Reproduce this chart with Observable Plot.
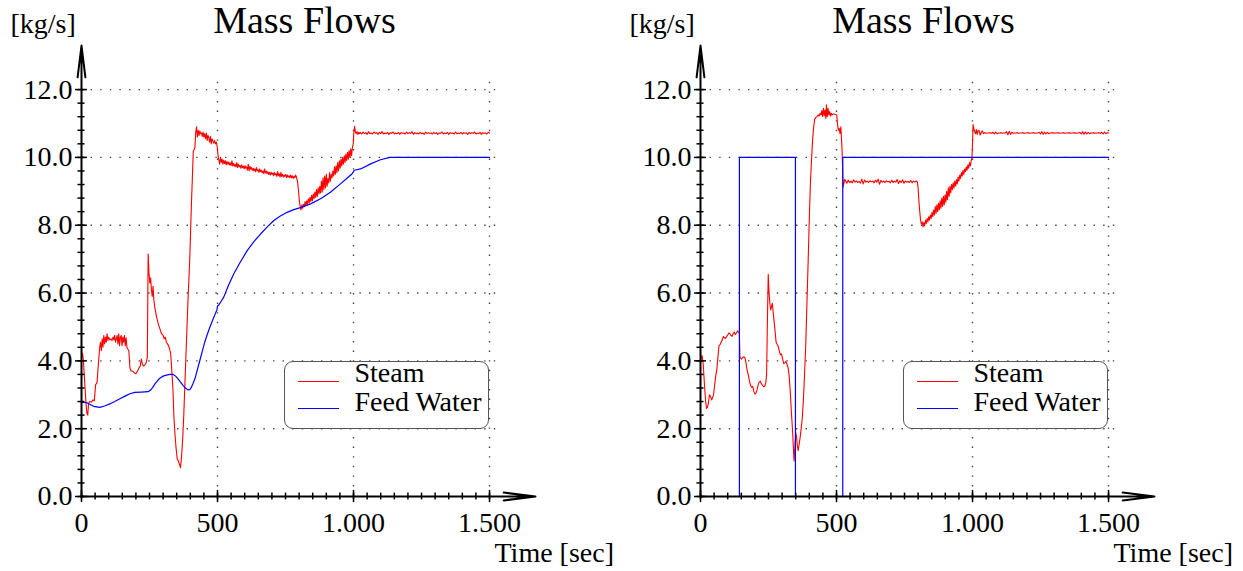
<!DOCTYPE html>
<html><head><meta charset="utf-8">
<script src="https://cdn.jsdelivr.net/npm/d3@7"></script>
<script src="https://cdn.jsdelivr.net/npm/@observablehq/plot@0.6"></script>
<style>
body{margin:0;background:#fff;}
#wrap{position:relative;width:1243px;height:571px;overflow:hidden;}
.panel{position:absolute;top:0;}
.legend{position:absolute;top:361px;width:205px;height:68px;border:1.5px solid #555;border-radius:9px;background:#fff;box-sizing:border-box;}
.legend .sw{position:absolute;left:12.5px;width:41px;height:1.2px;}
.legend .lb{position:absolute;left:69.5px;font-size:28px;line-height:28px;white-space:nowrap;color:#000;}
</style></head><body><div id="wrap"></div>
<script>
// ---- axis ticks / labels ----
const xMajor = [0, 500, 1000, 1500];
const xTickLabels = ["0", "500", "1.000", "1.500"];
const yMajor = [0, 2, 4, 6, 8, 10, 12];
const yTickLabels = ["0.0", "2.0", "4.0", "6.0", "8.0", "10.0", "12.0"];
const xMinor = d3.range(0, 31).map(i => i * 50);
const yMinor = d3.range(0, 31).map(i => i * 0.4);
const titleText = "Mass Flows";
const yUnit = "[kg/s]";
const xLabel = "Time [sec]";
const seriesNames = ["Steam", "Feed Water"];
const seriesColors = ["#ff0000", "#0000ff"];
const FONT = "'Liberation Serif', LiberationSerif, Tinos, 'Times New Roman', Times, 'Nimbus Roman', FreeSerif, 'DejaVu Serif', serif";

// ---- left panel data [time s, kg/s] ----
const leftSteam = [[0,4.10],[4,4.22],[7,4.00],[10,3.60],[13,3.20],[17,2.70],[20,2.45],[23,2.40],[26,2.75],[30,2.80],[36,2.78],[42,2.85],[47,2.82],[52,3.30],[57,3.35],[62,3.90],[67,4.40],[70,4.55],[73,4.30],[76,4.65],[79,4.40],[82,4.75],[85,4.50],[88,4.70],[91,4.55],[94,4.80],[97,4.60],[100,4.70],[104,4.62],[108,4.65],[112,4.60],[116,4.70],[119,4.62],[122,4.75],[125,4.55],[128,4.65],[131,4.75],[134,4.50],[137,4.80],[140,4.45],[143,4.70],[146,4.75],[149,4.45],[152,4.70],[155,4.55],[158,4.75],[161,4.45],[164,4.68],[167,4.40],[170,4.35],[174,4.30],[178,3.80],[182,3.70],[188,3.70],[194,3.65],[200,3.62],[206,3.70],[212,3.80],[216,3.85],[220,4.05],[224,3.90],[228,3.85],[233,3.88],[238,3.95],[242,4.10],[245,7.15],[248,6.60],[251,6.30],[254,6.45],[257,6.10],[260,5.90],[263,6.20],[266,5.80],[270,5.55],[276,5.30],[282,5.10],[288,4.95],[294,4.80],[300,4.75],[304,4.65],[308,4.70],[312,4.55],[316,4.50],[320,4.45],[324,4.35],[328,4.20],[332,3.70],[336,3.20],[340,2.30],[344,1.80],[348,1.40],[352,1.10],[356,1.05],[360,0.95],[364,0.85],[368,1.20],[372,1.70],[376,2.40],[380,3.30],[386,4.60],[392,5.90],[398,7.00],[404,8.60],[408,9.50],[411,10.20],[414,10.22],[417,10.30],[420,10.75],[423,10.90],[426,10.60],[429,10.80],[432,10.65],[435,10.78],[438,10.70],[441,10.72],[444,10.62],[447,10.75],[450,10.60],[453,10.70],[456,10.55],[459,10.72],[462,10.50],[465,10.65],[468,10.58],[471,10.45],[474,10.62],[477,10.40],[480,10.55],[483,10.48],[486,10.42],[489,10.50],[492,10.40],[496,10.45],[499,10.30],[502,10.05],[505,9.92],[508,9.80],[511,10.00],[514,9.85],[517,9.95],[520,9.80],[523,9.92],[526,9.82],[529,9.90],[532,9.78],[535,9.88],[538,9.80],[541,9.86],[544,9.78],[547,9.84],[550,9.76],[553,9.90],[556,9.75],[559,9.82],[562,9.74],[565,9.80],[568,9.72],[571,9.85],[574,9.70],[577,9.80],[580,9.72],[583,9.76],[586,9.68],[589,9.78],[592,9.70],[595,9.74],[598,9.66],[601,9.76],[604,9.68],[607,9.72],[610,9.62],[613,9.80],[616,9.60],[619,9.74],[622,9.65],[625,9.70],[628,9.62],[631,9.68],[634,9.60],[637,9.66],[640,9.58],[643,9.70],[646,9.60],[649,9.64],[652,9.56],[655,9.66],[658,9.58],[661,9.62],[664,9.55],[667,9.60],[670,9.52],[673,9.66],[676,9.54],[679,9.60],[682,9.52],[685,9.58],[688,9.50],[691,9.56],[694,9.48],[697,9.56],[700,9.50],[703,9.54],[706,9.46],[709,9.56],[712,9.48],[715,9.52],[718,9.44],[721,9.58],[724,9.46],[727,9.52],[730,9.42],[733,9.56],[736,9.44],[739,9.50],[742,9.42],[745,9.48],[748,9.44],[751,9.50],[754,9.40],[757,9.48],[760,9.42],[763,9.46],[766,9.40],[769,9.48],[772,9.40],[775,9.46],[778,9.38],[781,9.44],[784,9.40],[787,9.48],[790,9.42],[794,9.30],[798,9.00],[801,8.70],[804,8.55],[807,8.45],[810,8.60],[813,8.50],[816,8.62],[819,8.55],[822,8.70],[825,8.58],[828,8.72],[831,8.62],[834,8.78],[837,8.66],[840,8.82],[843,8.70],[846,8.88],[849,8.72],[852,8.92],[855,8.78],[858,8.98],[861,8.82],[864,9.05],[867,8.85],[870,9.10],[873,8.92],[876,9.15],[879,8.95],[882,9.30],[885,8.98],[888,9.40],[891,9.05],[894,9.45],[897,9.10],[900,9.50],[903,9.15],[906,9.38],[909,9.25],[912,9.55],[915,9.30],[918,9.50],[921,9.40],[924,9.60],[927,9.45],[930,9.72],[933,9.50],[936,9.75],[939,9.55],[942,9.85],[945,9.60],[948,9.90],[951,9.68],[954,9.95],[957,9.75],[960,10.00],[963,9.80],[966,10.05],[969,9.85],[972,10.10],[975,9.90],[978,10.15],[981,9.95],[984,10.20],[987,10.00],[990,10.25],[993,10.05],[996,10.30],[999,10.40],[1001,10.70],[1004,10.92],[1007,10.75],[1010,10.70],[1013,10.76],[1016,10.68],[1019,10.74],[1022,10.70],[1025,10.74],[1030,10.69],[1035,10.75],[1040,10.70],[1045,10.73],[1050,10.68],[1055,10.76],[1060,10.70],[1065,10.72],[1070,10.69],[1075,10.75],[1080,10.71],[1085,10.73],[1090,10.68],[1095,10.74],[1100,10.70],[1105,10.76],[1110,10.69],[1115,10.72],[1120,10.70],[1125,10.74],[1130,10.68],[1135,10.73],[1140,10.71],[1145,10.75],[1150,10.69],[1155,10.72],[1160,10.70],[1165,10.74],[1170,10.68],[1175,10.73],[1180,10.71],[1185,10.72],[1190,10.69],[1195,10.75],[1200,10.70],[1205,10.73],[1210,10.71],[1215,10.76],[1220,10.68],[1225,10.73],[1230,10.70],[1235,10.72],[1240,10.69],[1245,10.74],[1250,10.70],[1255,10.72],[1260,10.68],[1265,10.75],[1270,10.70],[1275,10.73],[1280,10.71],[1285,10.72],[1290,10.69],[1295,10.74],[1300,10.70],[1305,10.73],[1310,10.68],[1315,10.72],[1320,10.71],[1325,10.75],[1330,10.69],[1335,10.72],[1340,10.70],[1345,10.74],[1350,10.68],[1355,10.73],[1360,10.71],[1365,10.72],[1370,10.69],[1375,10.75],[1380,10.70],[1385,10.72],[1390,10.70],[1395,10.74],[1400,10.69],[1405,10.73],[1410,10.71],[1415,10.72],[1420,10.68],[1425,10.74],[1430,10.70],[1435,10.73],[1440,10.71],[1445,10.75],[1450,10.69],[1455,10.72],[1460,10.70],[1465,10.74],[1470,10.68],[1475,10.73],[1480,10.71],[1485,10.72],[1490,10.69],[1495,10.74],[1500,10.72]];
const leftFeed = [[0,2.78],[18,2.77],[30,2.72],[45,2.66],[67,2.63],[85,2.67],[104,2.73],[122,2.80],[141,2.88],[160,2.96],[178,3.03],[196,3.07],[220,3.08],[245,3.09],[254,3.14],[262,3.22],[270,3.32],[280,3.42],[288,3.49],[300,3.55],[312,3.58],[325,3.60],[337,3.60],[346,3.55],[355,3.47],[364,3.37],[374,3.27],[383,3.19],[392,3.14],[398,3.15],[404,3.22],[410,3.33],[417,3.47],[426,3.74],[435,4.01],[444,4.28],[453,4.55],[462,4.77],[472,4.99],[483,5.22],[494,5.43],[498,5.50],[500,5.62],[505,5.65],[513,5.75],[523,5.88],[540,6.22],[560,6.57],[585,6.93],[609,7.25],[633,7.51],[658,7.74],[683,7.95],[707,8.14],[731,8.27],[756,8.38],[780,8.46],[805,8.52],[842,8.63],[879,8.78],[915,8.97],[952,9.22],[975,9.38],[995,9.52],[1000,9.58],[1003,9.62],[1026,9.66],[1063,9.81],[1099,9.93],[1134,10.0],[1500,10.0]];

// ---- right panel data [time s, kg/s] ----
const rightSteam = [[0,4.20],[3,4.05],[6,4.15],[10,3.90],[13,3.50],[16,3.12],[19,2.80],[22,2.60],[25,2.62],[29,2.75],[33,3.00],[37,2.95],[41,2.85],[44,2.90],[48,3.00],[52,3.30],[56,3.55],[60,3.75],[64,4.10],[68,4.45],[72,4.48],[76,4.55],[80,4.62],[84,4.72],[88,4.68],[92,4.66],[96,4.72],[100,4.76],[104,4.82],[108,4.80],[112,4.75],[116,4.72],[120,4.80],[124,4.85],[128,4.78],[132,4.82],[136,4.88],[140,4.85],[143,4.80],[145,4.10],[150,4.05],[155,4.10],[160,4.12],[164,4.08],[168,3.90],[172,3.70],[176,3.58],[180,3.40],[184,3.28],[188,3.22],[192,3.25],[196,3.10],[200,3.02],[204,3.05],[208,3.15],[212,3.30],[216,3.38],[220,3.40],[224,3.32],[228,3.28],[232,3.24],[236,3.25],[240,3.35],[243,3.60],[246,5.20],[249,6.55],[252,6.00],[255,5.70],[258,5.50],[261,5.60],[264,5.70],[267,5.45],[270,5.20],[274,4.90],[278,4.55],[282,4.48],[286,4.42],[290,4.28],[294,4.18],[298,4.20],[302,4.05],[306,3.92],[310,3.94],[314,3.98],[318,3.90],[322,3.80],[326,3.55],[330,3.10],[334,2.50],[338,2.00],[341,1.50],[344,1.05],[347,1.45],[350,1.90],[353,1.75],[356,1.50],[359,1.35],[362,1.50],[366,1.72],[370,2.00],[374,2.30],[378,2.80],[382,3.50],[387,4.50],[392,5.90],[396,7.00],[400,8.20],[404,9.22],[408,9.90],[412,10.50],[416,10.90],[420,11.13],[424,11.18],[428,11.20],[432,11.25],[436,11.22],[440,11.30],[443,11.25],[446,11.38],[449,11.20],[452,11.45],[455,11.22],[458,11.40],[461,11.15],[463,11.55],[466,11.20],[469,11.45],[472,11.25],[475,11.35],[478,11.22],[481,11.30],[484,11.25],[487,11.28],[490,11.28],[494,11.27],[498,11.26],[501,11.25],[504,10.95],[507,10.80],[510,10.85],[513,10.70],[516,10.90],[518,10.60],[520,10.30],[522,9.80],[524,9.12],[527,9.22],[530,9.35],[533,9.32],[538,9.24],[543,9.33],[548,9.26],[553,9.30],[558,9.25],[563,9.34],[568,9.27],[573,9.31],[578,9.26],[583,9.29],[588,9.24],[593,9.36],[598,9.22],[603,9.33],[608,9.27],[613,9.30],[618,9.26],[623,9.31],[628,9.28],[633,9.30],[638,9.25],[643,9.33],[648,9.27],[653,9.36],[658,9.21],[663,9.32],[668,9.27],[673,9.30],[678,9.26],[683,9.31],[688,9.28],[693,9.29],[698,9.25],[703,9.33],[708,9.26],[713,9.30],[718,9.27],[723,9.35],[728,9.23],[733,9.31],[738,9.26],[743,9.34],[748,9.24],[753,9.30],[758,9.27],[763,9.29],[768,9.26],[773,9.32],[778,9.25],[783,9.30],[788,9.27],[793,9.31],[797,9.28],[800,9.10],[803,8.70],[806,8.40],[809,8.15],[812,8.04],[815,8.10],[818,7.95],[821,8.08],[824,7.98],[827,8.15],[830,8.05],[833,8.20],[836,8.10],[839,8.25],[842,8.15],[845,8.30],[848,8.20],[851,8.38],[854,8.25],[857,8.45],[860,8.30],[863,8.55],[866,8.35],[869,8.60],[872,8.40],[875,8.65],[878,8.45],[881,8.72],[884,8.50],[887,8.80],[890,8.55],[893,8.85],[896,8.60],[899,8.90],[902,8.68],[905,9.00],[908,8.75],[911,9.10],[914,8.85],[917,9.15],[920,8.95],[923,9.20],[926,9.05],[929,9.25],[932,9.10],[935,9.30],[938,9.15],[941,9.35],[944,9.22],[947,9.42],[950,9.30],[953,9.48],[956,9.38],[959,9.55],[962,9.45],[965,9.62],[968,9.50],[971,9.66],[974,9.58],[977,9.72],[980,9.62],[983,9.78],[986,9.68],[989,9.85],[992,9.75],[995,9.90],[998,10.00],[1000,10.40],[1002,10.97],[1005,10.85],[1008,10.75],[1011,10.70],[1014,10.82],[1017,10.68],[1020,10.78],[1024,10.80],[1028,10.66],[1032,10.74],[1036,10.78],[1040,10.70],[1045,10.73],[1050,10.71],[1055,10.72],[1060,10.72],[1065,10.73],[1070,10.71],[1075,10.74],[1080,10.69],[1085,10.75],[1090,10.70],[1095,10.72],[1100,10.72],[1105,10.73],[1110,10.71],[1115,10.72],[1120,10.72],[1125,10.76],[1130,10.67],[1135,10.77],[1140,10.68],[1145,10.74],[1150,10.71],[1155,10.72],[1160,10.72],[1165,10.73],[1170,10.71],[1175,10.72],[1180,10.72],[1185,10.73],[1190,10.71],[1195,10.72],[1200,10.72],[1205,10.73],[1210,10.71],[1215,10.72],[1220,10.72],[1225,10.73],[1230,10.71],[1235,10.72],[1240,10.72],[1245,10.74],[1250,10.69],[1255,10.76],[1260,10.68],[1265,10.75],[1270,10.69],[1275,10.74],[1280,10.70],[1285,10.72],[1290,10.72],[1295,10.73],[1300,10.71],[1305,10.72],[1310,10.72],[1315,10.73],[1320,10.71],[1325,10.72],[1330,10.72],[1335,10.73],[1340,10.71],[1345,10.72],[1350,10.72],[1355,10.73],[1360,10.71],[1365,10.72],[1370,10.72],[1375,10.73],[1380,10.71],[1385,10.72],[1390,10.72],[1395,10.74],[1400,10.69],[1405,10.76],[1410,10.68],[1415,10.75],[1420,10.69],[1425,10.74],[1430,10.70],[1435,10.72],[1440,10.72],[1445,10.73],[1450,10.71],[1455,10.72],[1460,10.72],[1465,10.73],[1470,10.71],[1475,10.74],[1480,10.69],[1485,10.75],[1490,10.70],[1495,10.73],[1500,10.72]];
const rightFeed = [[0,0],[143,0],[143,10],[349,10],[349,0],[523,0],[523,10],[1500,10]];

const X_MAX = 1669, Y_MAX = 13.3;
const gridStyle = {stroke: "#444", strokeWidth: 1.4, strokeDasharray: "1.4,8.2"};

function panel(steam, feed) {
  return Plot.plot({
    width: 620, height: 571,
    marginLeft: 81, marginRight: 85, marginTop: 45, marginBottom: 75,
    x: {domain: [0, X_MAX], axis: null},
    y: {domain: [0, Y_MAX], axis: null},
    style: {fontFamily: FONT, fontSize: "28px", background: "transparent", overflow: "visible"},
    marks: [
      Plot.ruleY(yMajor.slice(1), {y: d => d, x1: 0, x2: 1550, ...gridStyle}),
      Plot.ruleX(xMajor.slice(1), {x: d => d, y1: 0, y2: 12.4, ...gridStyle}),
      Plot.line(steam, {x: d => d[0], y: d => d[1], stroke: seriesColors[0], strokeWidth: 1.1}),
      Plot.line(feed, {x: d => d[0], y: d => d[1], stroke: seriesColors[1], strokeWidth: 1.2}),
      Plot.ruleX(xMinor, {x: d => d, y1: -0.1, y2: 0.1, stroke: "#000", strokeWidth: 1.5}),
      Plot.ruleX(xMajor, {x: d => d, y1: -0.18, y2: 0.18, stroke: "#000", strokeWidth: 1.5}),
      Plot.ruleY(yMinor, {y: d => d, x1: -13, x2: 13, stroke: "#000", strokeWidth: 1.5}),
      Plot.ruleY(yMajor, {y: d => d, x1: -22, x2: 22, stroke: "#000", strokeWidth: 1.5}),
      Plot.arrow([0], {x1: 0, y1: 0, x2: X_MAX, y2: 0, stroke: "#000", strokeWidth: 2, headLength: 24, headAngle: 14}),
      Plot.arrow([0], {x1: 0, y1: 0, x2: 0, y2: Y_MAX, stroke: "#000", strokeWidth: 2, headLength: 24, headAngle: 14}),
      Plot.text(xMajor, {x: d => d, y: 0, text: (d, i) => xTickLabels[i], dy: 35, lineAnchor: "bottom", fill: "#000", fontSize: 28, fontFamily: FONT}),
      Plot.text(yMajor, {x: 0, y: d => d, text: (d, i) => yTickLabels[i], dx: -9, textAnchor: "end", lineAnchor: "middle", fill: "#000", fontSize: 28, fontFamily: FONT}),
      Plot.text([titleText], {text: d => d, frameAnchor: "top-left", dx: 223, dy: -13, textAnchor: "middle", lineAnchor: "bottom", fill: "#000", fontSize: 38, fontFamily: FONT}),
      Plot.text([yUnit], {text: d => d, frameAnchor: "top-left", dx: -71, dy: -13, textAnchor: "start", lineAnchor: "bottom", fill: "#000", fontSize: 28, fontFamily: FONT}),
      Plot.text([xLabel], {text: d => d, frameAnchor: "bottom-left", dx: 413, dy: 65, textAnchor: "start", lineAnchor: "bottom", fill: "#000", fontSize: 28, fontFamily: FONT})
    ]
  });
}

function legend(left) {
  const box = document.createElement("div");
  box.className = "legend";
  box.style.left = left + "px";
  const tops = [18.5, 45.5], textTops = [-3, 25.8];
  seriesNames.forEach((name, i) => {
    const sw = document.createElement("div");
    sw.className = "sw"; sw.style.top = tops[i] + "px"; sw.style.background = seriesColors[i];
    const lb = document.createElement("div");
    lb.className = "lb"; lb.style.top = textTops[i] + "px"; lb.style.fontFamily = FONT; lb.textContent = name;
    box.appendChild(sw); box.appendChild(lb);
  });
  return box;
}

const wrap = document.getElementById("wrap");
[[leftSteam, leftFeed, 0], [rightSteam, rightFeed, 619]].forEach(([s, f, off]) => {
  const p = panel(s, f);
  p.classList.add("panel");
  p.style.left = off + "px";
  wrap.appendChild(p);
  wrap.appendChild(legend(284 + off));
});
</script></body></html>
